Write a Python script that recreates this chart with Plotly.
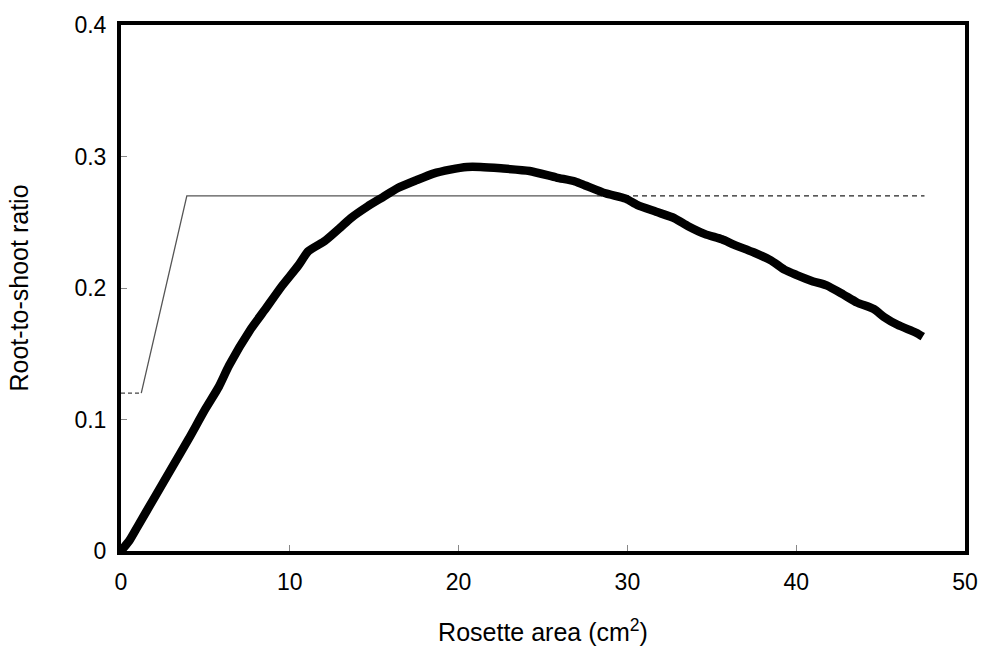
import plotly.graph_objects as go

# Thick curve: root-to-shoot ratio vs rosette area
curve_x = [0, 0.5, 1, 2, 3, 4, 5, 5.8, 6.4, 7.7, 8.5, 9.5, 10.5, 11.1, 12.1, 13.0, 13.6,
           14.6, 15.5, 16.4, 17.5, 18.5, 19.5, 20.5, 21.3, 22.5, 24.2, 25.8, 26.9, 27.5,
           28.7, 29.9, 30.6, 31.7, 32.8, 33.6, 34.6, 35.6, 36.3, 37.5, 38.5, 39.3, 40.0,
           41.0, 41.8, 42.8, 43.6, 44.6, 45.2, 46.0, 47.1, 47.5]
curve_y = [0, 0.008, 0.019, 0.041, 0.063, 0.085, 0.108, 0.125, 0.141, 0.169, 0.183, 0.201,
           0.217, 0.228, 0.236, 0.246, 0.253, 0.262, 0.269, 0.276, 0.282, 0.287, 0.290,
           0.292, 0.292, 0.291, 0.289, 0.284, 0.281, 0.278, 0.272, 0.268, 0.263, 0.258,
           0.253, 0.247, 0.241, 0.237, 0.233, 0.227, 0.221, 0.214, 0.210, 0.205, 0.202,
           0.195, 0.189, 0.184, 0.178, 0.172, 0.166, 0.163]

# Thin threshold line: dashed start, solid ramp/plateau, dashed end
dash_left_x = [0, 1.2]
dash_left_y = [0.12, 0.12]
solid_x = [1.2, 3.9, 28.2]
solid_y = [0.12, 0.27, 0.27]
dash_right_x = [28.2, 47.6]
dash_right_y = [0.27, 0.27]

x_ticks = [0, 10, 20, 30, 40, 50]
y_ticks = [0, 0.1, 0.2, 0.3, 0.4]
y_tick_text = ["0", "0.1", "0.2", "0.3", "0.4"]

fig = go.Figure()
fig.add_trace(go.Scatter(x=dash_left_x, y=dash_left_y, mode="lines",
                         line=dict(color="#444444", width=1.2, dash="4px,3px")))
fig.add_trace(go.Scatter(x=solid_x, y=solid_y, mode="lines",
                         line=dict(color="#555555", width=1.3)))
fig.add_trace(go.Scatter(x=dash_right_x, y=dash_right_y, mode="lines",
                         line=dict(color="#222222", width=1.2, dash="5px,4px")))
fig.add_trace(go.Scatter(x=curve_x, y=curve_y, mode="lines",
                         line=dict(color="black", width=8.5, shape="spline", smoothing=0.6)))

tick_font = dict(family="Liberation Sans, Arial, sans-serif", size=23, color="black")
title_font = dict(family="Liberation Sans, Arial, sans-serif", size=25, color="black")

fig.update_layout(
    width=990, height=657,
    margin=dict(l=121, r=19, t=20, b=106),
    paper_bgcolor="white", plot_bgcolor="white",
    showlegend=False,
    font=tick_font,
    xaxis=dict(range=[0, 50], tickvals=x_ticks, ticks="inside", ticklen=6,
               tickcolor="#888888", tickwidth=1, showgrid=False, zeroline=False,
               showline=True, linecolor="black", linewidth=4, mirror=True,
               tickfont=tick_font, ticklabelstandoff=7,
               title=dict(text="Rosette area (cm<sup>2</sup>)", font=title_font, standoff=31)),
    yaxis=dict(range=[0, 0.4], tickvals=y_ticks, ticktext=y_tick_text, ticks="inside",
               ticklen=6, tickcolor="#888888", tickwidth=1, showgrid=False,
               zeroline=False, showline=True, linecolor="black", linewidth=4,
               mirror=True, tickfont=tick_font, ticklabelstandoff=6,
               title=dict(text="Root-to-shoot ratio", font=title_font, standoff=40)),
)

fig.write_html("out.html")
